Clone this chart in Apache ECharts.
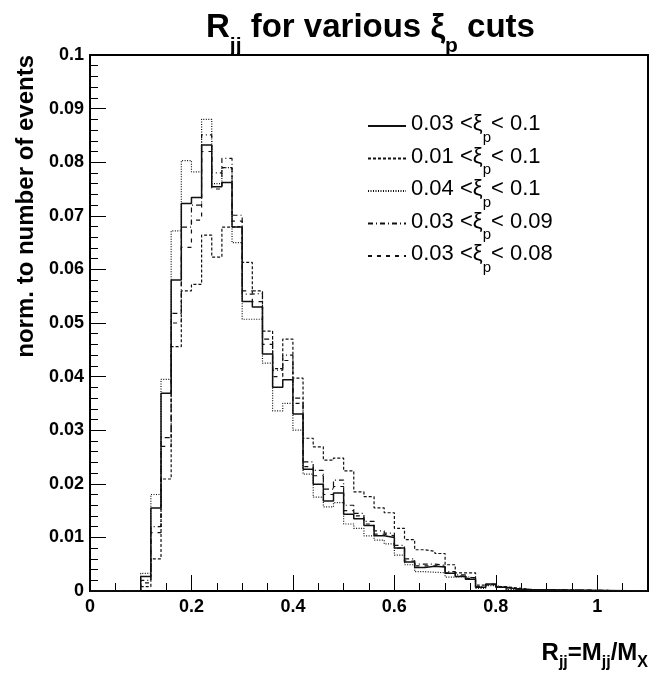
<!DOCTYPE html>
<html><head><meta charset="utf-8">
<script src="https://cdn.jsdelivr.net/npm/echarts@6/dist/echarts.min.js"></script>
<style>html,body{margin:0;padding:0;background:#fff}#c{width:667px;height:673px;background:#fff}</style>
</head><body><div id="c"></div>
<script>
// ---- data ----
const binLowEdges = [0.10,0.12,0.14,0.16,0.18,0.20,0.22,0.24,0.26,0.28,0.30,0.32,0.34,0.36,0.38,0.40,0.42,0.44,0.46,0.48,
  0.50,0.52,0.54,0.56,0.58,0.60,0.62,0.64,0.66,0.68,0.70,0.72,0.74,0.76,0.78,0.80,0.82,0.84];
const binWidth = 0.02;
const xi003to010 = [0.0027,0.0155,0.0369,0.0580,0.0723,0.0734,0.0832,0.0754,0.0762,0.0679,0.0540,0.0530,0.0442,0.0380,0.0394,0.0330,0.0227,0.0199,0.0168,0.0183,
  0.0143,0.0135,0.0122,0.0103,0.0100,0.0080,0.0054,0.0044,0.0046,0.0045,0.0033,0.0027,0.0022,0.0007,0.0013,0.0007,0.0004,0.0003];
const xi001to010 = [0.0008,0.0060,0.0209,0.0456,0.0560,0.0572,0.0664,0.0623,0.0679,0.0680,0.0613,0.0560,0.0485,0.0415,0.0470,0.0397,0.0285,0.0269,0.0244,0.0248,
  0.0224,0.0185,0.0176,0.0155,0.0146,0.0117,0.0096,0.0077,0.0074,0.0070,0.0049,0.0034,0.0034,0.0011,0.0013,0.0008,0.0006,0.0004];
const xi004to010 = [0.0033,0.0180,0.0395,0.0672,0.0803,0.0782,0.0880,0.0760,0.0790,0.0650,0.0507,0.0507,0.0425,0.0336,0.0350,0.0300,0.0218,0.0175,0.0157,0.0165,
  0.0125,0.0117,0.0103,0.0095,0.0088,0.0067,0.0049,0.0036,0.0035,0.0034,0.0026,0.0027,0.0024,0.0005,0.0010,0.0007,0.0003,0.0002];
const xi003to009 = [0.0020,0.0120,0.0286,0.0518,0.0679,0.0720,0.0851,0.0780,0.0807,0.0701,0.0554,0.0555,0.0470,0.0412,0.0440,0.0360,0.0241,0.0225,0.0190,0.0207,
  0.0160,0.0145,0.0130,0.0112,0.0108,0.0085,0.0060,0.0050,0.0050,0.0048,0.0036,0.0030,0.0025,0.0008,0.0012,0.0008,0.0004,0.0003];
const xi003to008 = [0.0015,0.0109,0.0270,0.0500,0.0641,0.0692,0.0820,0.0750,0.0790,0.0690,0.0560,0.0540,0.0460,0.0400,0.0430,0.0350,0.0232,0.0215,0.0180,0.0195,
  0.0150,0.0140,0.0125,0.0106,0.0103,0.0080,0.0056,0.0047,0.0047,0.0046,0.0034,0.0028,0.0023,0.0008,0.0012,0.0007,0.0004,0.0003];
const seriesLow  = ['0.03','0.01','0.04','0.03','0.03'];
const seriesHigh = ['0.1','0.1','0.1','0.09','0.08'];
const seriesValues = [xi003to010, xi001to010, xi004to010, xi003to009, xi003to008];
const xRange = [0, 1.1];
const yRange = [0, 0.1];

// ---- styles ----
const FONT = "'Liberation Sans', Arial, Helvetica, sans-serif";
const dashStyles = ['solid', [3,2], [1,1.5], [5,3,1,3], [4,5]];
const lineWidths = [1.5, 1.2, 1.2, 1.2, 1.2];

function histData(vals){
  const d = [[xRange[0], 0]];
  for (let i = 0; i < vals.length; i++) d.push([binLowEdges[i], vals[i]]);
  d.push([binLowEdges[binLowEdges.length-1] + binWidth, 0]);
  d.push([xRange[1], 0]);
  return d;
}
const names = seriesLow.map((l,i)=> l + ' <ξp< ' + seriesHigh[i]);

const chart = echarts.init(document.getElementById('c'));
chart.setOption({
  animation: false,
  grid: {left: 90, right: 19, top: 55, bottom: 82, show: true, backgroundColor:'transparent', borderColor:'#000', borderWidth: 2, containLabel: false},
  xAxis: [{
    type:'value', min: xRange[0], max: xRange[1], interval: 0.2,
    axisLine:{show:true, onZero:false, lineStyle:{color:'#000', width:2}},
    axisTick:{show:true, inside:true, length:16, lineStyle:{color:'#000', width:1}},
    minorTick:{show:true, splitNumber:4, length:8, lineStyle:{color:'#000', width:1}},
    axisLabel:{color:'#000', fontFamily: FONT, fontWeight:'bold', fontSize:18, margin:7, showMinLabel:true, showMaxLabel:false, hideOverlap:false,
      formatter: v => String(Math.round(v*10)/10)},
    splitLine:{show:false}, minorSplitLine:{show:false}
  }],
  yAxis: [{
    type:'value', min: yRange[0], max: yRange[1], interval: 0.01,
    axisLine:{show:true, onZero:false, lineStyle:{color:'#000', width:2}},
    axisTick:{show:true, inside:true, length:16, lineStyle:{color:'#000', width:1}},
    minorTick:{show:true, splitNumber:5, length:8, lineStyle:{color:'#000', width:1}},
    axisLabel:{color:'#000', fontFamily: FONT, fontWeight:'bold', fontSize:18, margin:6, showMinLabel:true, showMaxLabel:true, hideOverlap:false,
      formatter: v => String(Math.round(v*100)/100)},
    splitLine:{show:false}, minorSplitLine:{show:false}
  }],
  series: seriesValues.map((vals,i)=>({
    name: names[i], type:'line', step:'end',
    data: histData(vals), symbol:'none',
    lineStyle:{color:'#111', width: lineWidths[i], type: dashStyles[i]},
    itemStyle:{color:'#111'}
  }))
});
try {
  chart.setOption({
    title: {
      left: 206, top: 11, padding: 0,
      text: '{m|R}{s|jj}{m| for various ξ}{s|p}{m| cuts}',
      textStyle: { rich: {
        m: {fontFamily: FONT, fontWeight:'bold', fontSize: 33, color:'#000', verticalAlign:'top', lineHeight: 36},
        s: {fontFamily: FONT, fontWeight:'bold', fontSize: 21, color:'#000', verticalAlign:'top', lineHeight: 21, padding:[25,0,0,0]}
      }}
    },
    graphic: [
      {type:'text', x: 26, y: 55, rotation: Math.PI/2,
       style:{text:'norm. to number of events', font:"bold 24px " + FONT, fill:'#000', align:'right', verticalAlign:'middle'}},
      {type:'text', right: 19, top: 641,
       style:{text:'{m|R}{s|jj}{m|=M}{s|jj}{m|/M}{s|X}', fill:'#000',
         rich:{
           m:{fontFamily: FONT, fontWeight:'bold', fontSize: 24, fill:'#000', verticalAlign:'top', lineHeight: 26},
           s:{fontFamily: FONT, fontWeight:'bold', fontSize: 16, fill:'#000', verticalAlign:'top', lineHeight: 16, padding:[14,0,0,0]}
         }}}
    ]
  });
} catch (e) {}
try {
  chart.setOption({
    legend: {
      orient: 'vertical', left: 367, top: 113, padding: 0,
      itemWidth: 38, itemHeight: 12, itemGap: 0.5,
      data: names,
      itemStyle: {color:'rgba(0,0,0,0)'},
      formatter: function(name){
        const i = names.indexOf(name);
        return '{t|' + seriesLow[i] + ' <ξ}{s|p}{t|< ' + seriesHigh[i] + '}';
      },
      textStyle: { rich: {
        t: {fontFamily: FONT, fontSize: 22, color:'#000', verticalAlign:'top', lineHeight: 26},
        s: {fontFamily: FONT, fontSize: 15, color:'#000', verticalAlign:'top', lineHeight: 15, padding:[17,0,0,0]}
      }}
    }
  });
} catch (e) {}
</script></body></html>
